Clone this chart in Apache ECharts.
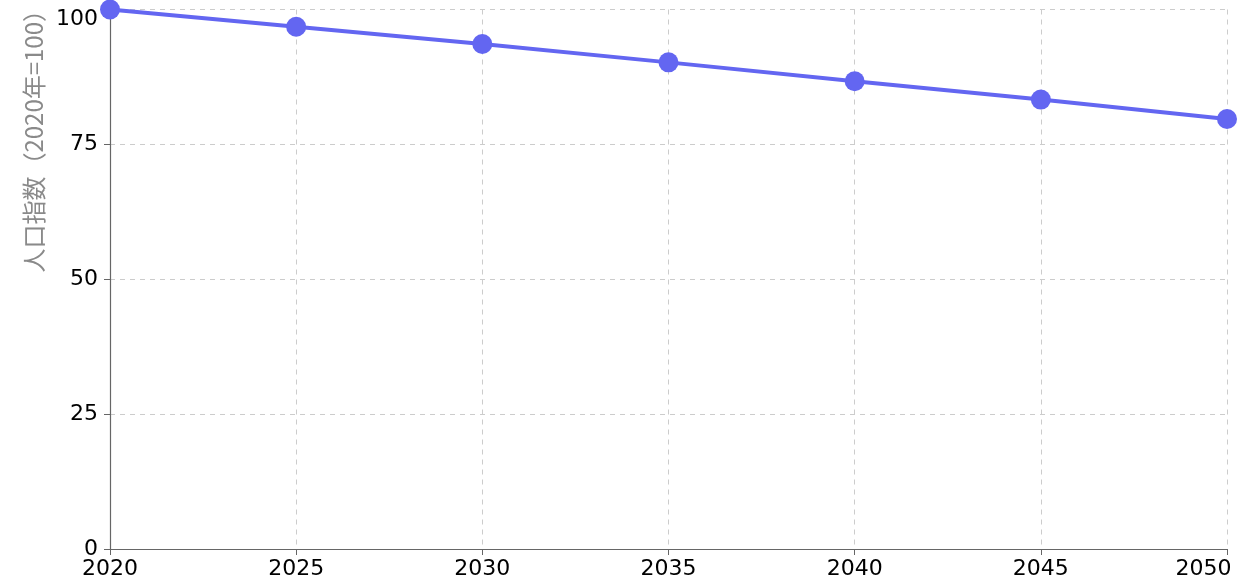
<!DOCTYPE html>
<html>
<head>
<meta charset="utf-8">
<script src="https://cdn.jsdelivr.net/npm/echarts@6/dist/echarts.min.js"></script>
<style>
html,body{margin:0;padding:0;background:#fff;}
#chart{width:1251px;height:587px;}
</style>
</head>
<body>
<div id="chart"></div>
<script>
const years = [2020, 2025, 2030, 2035, 2040, 2045, 2050];
const populationIndex = [100, 96.8, 93.6, 90.2, 86.7, 83.3, 79.7];
const yTicks = [0, 25, 50, 75, 100];
const yAxisTitle = '人口指数（2020年=100）';

const chart = echarts.init(document.getElementById('chart'));
const labelFont = '"DejaVu Sans", "Noto Sans CJK JP", sans-serif';
const fs = 22;
chart.setOption({
  animation: false,
  grid: { left: 110, right: 24, top: 9.5, bottom: 38, containLabel: false },
  xAxis: {
    type: 'value',
    min: years[0], max: years[years.length - 1], interval: 5,
    axisLine: { lineStyle: { color: '#666', width: 1.2 } },
    axisTick: { show: true, length: 6, lineStyle: { color: '#666' } },
    axisLabel: {
      color: '#000', fontSize: fs, fontFamily: labelFont, margin: 9,
      formatter: v => v === years[years.length - 1] ? '{r|' + v + '}' : String(v),
      rich: { r: { color: '#000', fontSize: fs, fontFamily: labelFont, padding: [0, 47, 0, 0] } }
    },
    splitLine: { show: true, lineStyle: { color: '#ccc', type: [5, 5], width: 1 } }
  },
  yAxis: {
    type: 'value',
    min: yTicks[0], max: yTicks[yTicks.length - 1], interval: 25,
    axisLine: { show: true, lineStyle: { color: '#666', width: 1.2 } },
    axisTick: { show: true, length: 6, lineStyle: { color: '#666' } },
    axisLabel: {
      color: '#000', fontSize: fs, fontFamily: labelFont, margin: 12,
      formatter: v => v === yTicks[yTicks.length - 1] ? '{t|' + v + '}' : String(v),
      rich: { t: { color: '#000', fontSize: fs, fontFamily: labelFont, padding: [20, 0, 0, 0] } }
    },
    splitLine: { show: true, lineStyle: { color: '#ccc', type: [5, 5], width: 1 } }
  },
  graphic: [{
    type: 'text',
    x: 34, y: -2,
    rotation: Math.PI / 2,
    style: {
      text: yAxisTitle,
      fill: '#8a8a8a',
      fontSize: 24,
      fontFamily: '"Noto Sans CJK JP", "DejaVu Sans", sans-serif',
      align: 'right',
      verticalAlign: 'middle'
    }
  }],
  series: [{
    type: 'line',
    data: years.map((y, i) => [y, populationIndex[i]]),
    symbol: 'circle',
    symbolSize: 20,
    lineStyle: { color: '#6366f1', width: 4 },
    itemStyle: { color: '#6366f1' },
    clip: false
  }]
});
</script>
</body>
</html>
